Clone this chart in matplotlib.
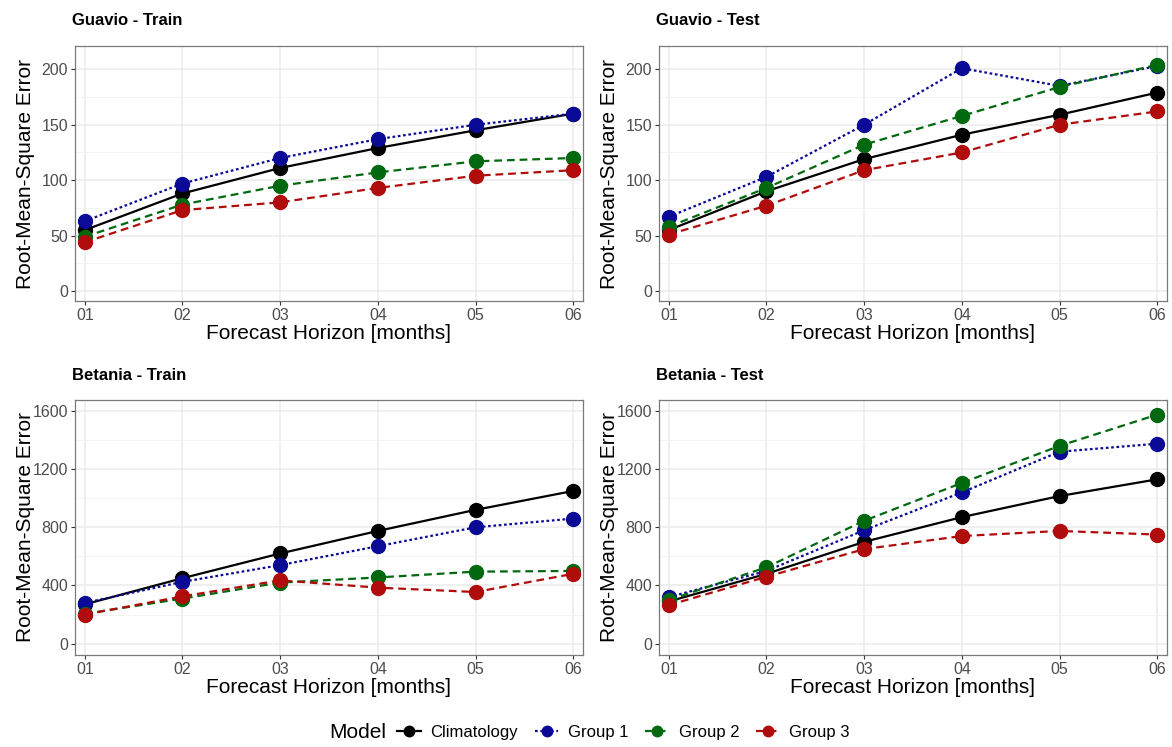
import numpy as np
import matplotlib.pyplot as plt
from matplotlib.lines import Line2D

plt.rcParams['font.family'] = ['Liberation Sans', 'DejaVu Sans']

# horizons
horizon = [1, 2, 3, 4, 5, 6]
horizon_labels = ['01', '02', '03', '04', '05', '06']

models = ['Climatology', 'Group 1', 'Group 2', 'Group 3']

# Guavio - Train
guavio_train_clim = [55, 88, 111, 129, 145, 160]
guavio_train_g1 = [63, 97, 120, 137, 150, 160]
guavio_train_g2 = [49, 78, 95, 107, 117, 120]
guavio_train_g3 = [44, 73, 80, 93, 104, 109]

# Guavio - Test
guavio_test_clim = [55, 90, 119, 141, 159, 179]
guavio_test_g1 = [67, 103, 150, 201, 185, 203]
guavio_test_g2 = [58, 93, 132, 158, 184, 204]
guavio_test_g3 = [51, 77, 109, 125, 150, 162]

# Betania - Train
betania_train_clim = [270, 450, 620, 775, 920, 1050]
betania_train_g1 = [280, 425, 540, 670, 800, 860]
betania_train_g2 = [205, 310, 420, 455, 495, 500]
betania_train_g3 = [200, 325, 435, 385, 355, 480]

# Betania - Test
betania_test_clim = [290, 480, 700, 870, 1015, 1130]
betania_test_g1 = [320, 500, 780, 1040, 1320, 1375]
betania_test_g2 = [300, 525, 845, 1105, 1360, 1575]
betania_test_g3 = [265, 460, 650, 740, 775, 750]

colors = ['black', '#0a0a96', '#00690f', '#b00c0c']
styles = ['-', (0, (1.2, 1.2)), (0, (3.5, 2.2)), (0, (3.5, 2.2))]

fig = plt.figure(figsize=(11.72, 7.47), dpi=100)

W = 0.4334
H = 0.3414
axes_pos = [
    (0.064, 0.597), (0.5623, 0.597),
    (0.064, 0.1232), (0.5623, 0.1232),
]
panels = [
    ('Guavio - Train', [guavio_train_clim, guavio_train_g1, guavio_train_g2, guavio_train_g3]),
    ('Guavio - Test', [guavio_test_clim, guavio_test_g1, guavio_test_g2, guavio_test_g3]),
    ('Betania - Train', [betania_train_clim, betania_train_g1, betania_train_g2, betania_train_g3]),
    ('Betania - Test', [betania_test_clim, betania_test_g1, betania_test_g2, betania_test_g3]),
]

for i, (title, series) in enumerate(panels):
    l, b = axes_pos[i]
    ax = fig.add_axes([l, b, W, H])
    for k in range(4):
        ax.plot(horizon, series[k], color=colors[k], linestyle=styles[k],
                linewidth=1.6, marker='o', markersize=10, zorder=3)
    if i < 2:
        ax.set_ylim(-9, 221)
        ax.set_yticks([0, 50, 100, 150, 200])
        ax.set_yticks([25, 75, 125, 175], minor=True)
    else:
        ax.set_ylim(-78, 1676)
        ax.set_yticks([0, 400, 800, 1200, 1600])
        ax.set_yticks([200, 600, 1000, 1400], minor=True)
    ax.set_xlim(0.9, 6.1)
    ax.set_xticks(horizon)
    ax.set_xticklabels(horizon_labels)
    ax.grid(True, which='major', color='#ebebeb', linewidth=1.1, zorder=0)
    ax.grid(True, which='minor', axis='y', color='#f2f2f2', linewidth=0.6, zorder=0)
    ax.set_axisbelow(True)
    ax.tick_params(axis='both', which='major', labelsize=11.5, labelcolor='#4d4d4d',
                   color='#333333', length=3, width=0.8, pad=2)
    ax.tick_params(axis='both', which='minor', length=0)
    for sp in ax.spines.values():
        sp.set_color('#7a7a7a')
        sp.set_linewidth(0.9)
    ax.set_xlabel('Forecast Horizon [months]', fontsize=15, labelpad=1)
    ax.set_ylabel('Root-Mean-Square Error', fontsize=15, va='center')
    ax.yaxis.set_label_coords(-0.097, 0.5)
    ax.text(-0.005, 1.1 if i < 2 else 1.095, title, transform=ax.transAxes,
            fontsize=12, fontweight='bold', ha='left', va='center')

handles = [Line2D([0], [0], color=colors[k], linestyle=styles[k], linewidth=1.6,
                  marker='o', markersize=7.5) for k in range(4)]
fig.text(0.281, 0.019, 'Model', fontsize=15, ha='left', va='center')
fig.legend(handles, models, loc='center', bbox_to_anchor=(0.532, 0.019), ncol=4,
           frameon=False, fontsize=12, handlelength=1.4, handletextpad=0.6,
           columnspacing=1.0, borderaxespad=0)

fig.savefig('out.png', dpi=100)
